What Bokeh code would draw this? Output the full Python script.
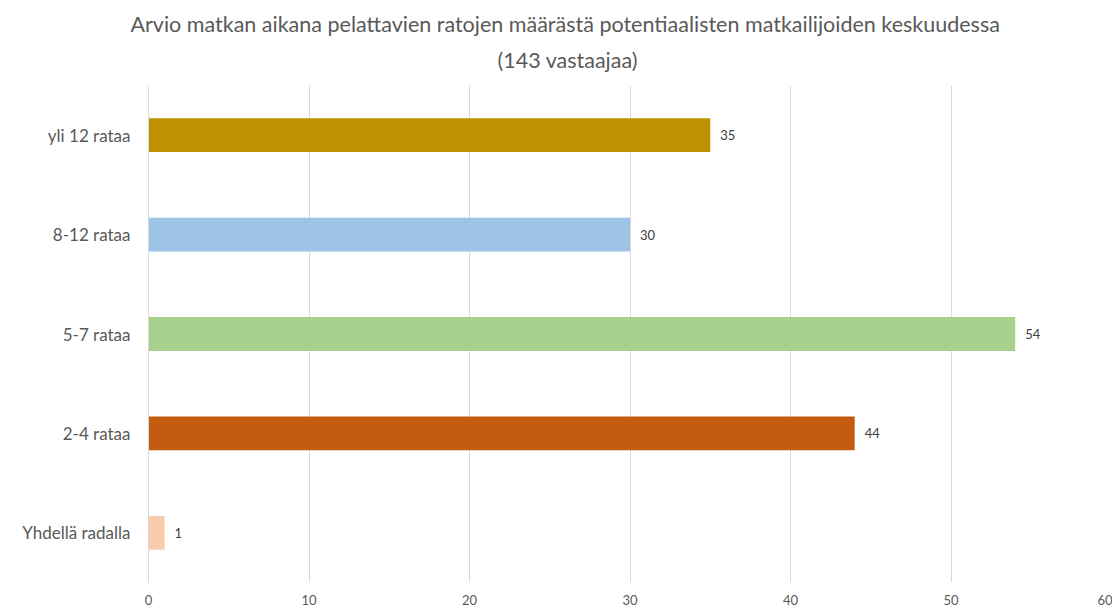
from bokeh.plotting import figure
from bokeh.models import ColumnDataSource, FactorRange, Range1d, FixedTicker, Title
from bokeh.embed import file_html
from bokeh.resources import INLINE
from bokeh.core.properties import value

categories = ["Yhdellä radalla", "2-4 rataa", "5-7 rataa", "8-12 rataa", "yli 12 rataa"]
counts = [1, 44, 54, 30, 35]
colors = ["#F8CBAD", "#C55A11", "#A9D18E", "#9DC3E6", "#BF9000"]
x_ticks = [0, 10, 20, 30, 40, 50, 60]
title_line1 = "Arvio matkan aikana pelattavien ratojen määrästä potentiaalisten matkailijoiden keskuudessa"
title_line2 = "(143 vastaajaa)"

FONT = "Lato"
src = ColumnDataSource(dict(cat=categories, val=counts, col=colors,
                            lab=[str(v) for v in counts]))

p = figure(width=1112, height=607, y_range=FactorRange(*categories, range_padding=0),
           x_range=Range1d(0, 60), output_backend="svg", toolbar_location=None,
           min_border_left=148, min_border_right=1, min_border_top=85, min_border_bottom=0)

sub = Title(text=title_line2, align="left", vertical_align="top", text_font=FONT,
            text_font_size="21.5px", text_font_style="normal", text_color="#595959",
            offset=349, standoff=21)
main = Title(text=title_line1, align="left", text_font=FONT, text_font_size="21.5px",
             text_font_style="normal", text_color="#595959", offset=-18, standoff=0)
p.add_layout(sub, "above")
p.add_layout(main, "above")

p.hbar(y="cat", right="val", left=0, height=0.34, fill_color="col", line_color=None, source=src)
p.text(x="val", y="cat", text="lab", source=src, x_offset=10, text_baseline="middle",
       text_align="left", text_font=value(FONT), text_font_size="13px", text_color="#404040")

p.outline_line_color = None
p.ygrid.grid_line_color = None
p.xgrid.grid_line_color = "#D9D9D9"
p.xgrid.ticker = FixedTicker(ticks=x_ticks)
p.xaxis.ticker = FixedTicker(ticks=x_ticks)

p.xaxis.axis_line_color = None
p.xaxis.major_tick_line_color = None
p.xaxis.minor_tick_line_color = None
p.xaxis.major_tick_out = 0
p.xaxis.major_tick_in = 0
p.xaxis.minor_tick_out = 0
p.xaxis.major_label_text_font = FONT
p.xaxis.major_label_text_font_size = "13px"
p.xaxis.major_label_text_color = "#595959"
p.xaxis.major_label_standoff = 12

p.yaxis.axis_line_color = "#D9D9D9"
p.yaxis.major_tick_line_color = None
p.yaxis.minor_tick_line_color = None
p.yaxis.major_tick_out = 0
p.yaxis.major_tick_in = 0
p.yaxis.minor_tick_out = 0
p.yaxis.major_label_text_font = FONT
p.yaxis.major_label_text_font_size = "17px"
p.yaxis.major_label_text_color = "#595959"
p.yaxis.major_label_standoff = 18

open("out.html", "w").write(file_html(p, INLINE))
